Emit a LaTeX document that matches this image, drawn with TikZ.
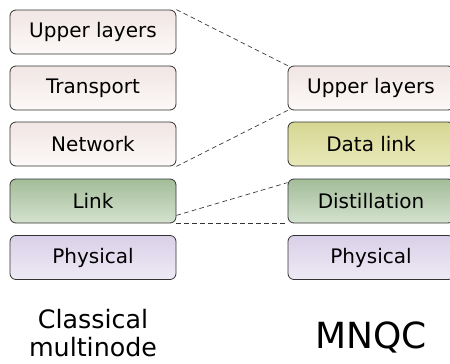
\documentclass[tikz,border=0pt]{standalone}
\usepackage{fontspec}
\setmainfont{DejaVu Sans}
\definecolor{uppertop}{HTML}{F1E6E3}
\definecolor{upperbot}{HTML}{FCF9F8}
\definecolor{linktop}{HTML}{A3BD99}
\definecolor{linkbot}{HTML}{D5E2CF}
\definecolor{datatop}{HTML}{D6D693}
\definecolor{databot}{HTML}{E9E9B9}
\definecolor{phystop}{HTML}{DAD0E8}
\definecolor{physbot}{HTML}{EEEAF5}
\tikzset{
  layer/.style={draw=black!80, line width=0.6pt, rounded corners=4.5pt,
    minimum width=124.5pt, minimum height=33pt, inner sep=0pt,
    font=\fontsize{15}{18}\selectfont},
  upperlayer/.style={layer, top color=uppertop, bottom color=upperbot},
  linklayer/.style={layer, top color=linktop, bottom color=linkbot},
  datalayer/.style={layer, top color=datatop, bottom color=databot},
  physlayer/.style={layer, top color=phystop, bottom color=physbot},
  mapline/.style={dashed, dash pattern=on 3.5pt off 2.5pt, line width=0.5pt, black!80},
}
\begin{document}
\begin{tikzpicture}[x=0.75pt, y=-0.75pt]
    \useasboundingbox (0, 0) rectangle (450, 364);

    % classical multinode stack
    \node[upperlayer] (cupper) at (93, 32) {Upper layers};
    \node[upperlayer] (ctransport) at (93, 88) {Transport};
    \node[upperlayer] (cnetwork) at (93, 144) {Network};
    \node[linklayer] (clink) at (93, 201) {Link};
    \node[physlayer] (cphys) at (93, 257.5) {Physical};

    % MNQC stack
    \node[upperlayer] (qupper) at (371, 88) {Upper layers};
    \node[datalayer] (qdata) at (371, 144) {Data link};
    \node[linklayer] (qdist) at (371, 201) {Distillation};
    \node[physlayer] (qphys) at (371, 257.5) {Physical};

    \draw[mapline] (cupper.north east) -- (qupper.north west);
    \draw[mapline] (cnetwork.south east) -- (qupper.south west);
    \draw[mapline] ([yshift=6pt]clink.south east) -- ([yshift=-3pt]qdist.north west);
    \draw[mapline] (clink.south east) -- (qdist.south west);

    \node[align=center, font=\fontsize{19}{21}\selectfont] (clabel) at (93, 333.5) {Classical\\multinode};
    \node[font=\fontsize{27}{30}\selectfont] (qlabel) at (371, 337) {MNQC};
  \end{tikzpicture}
\end{document}
